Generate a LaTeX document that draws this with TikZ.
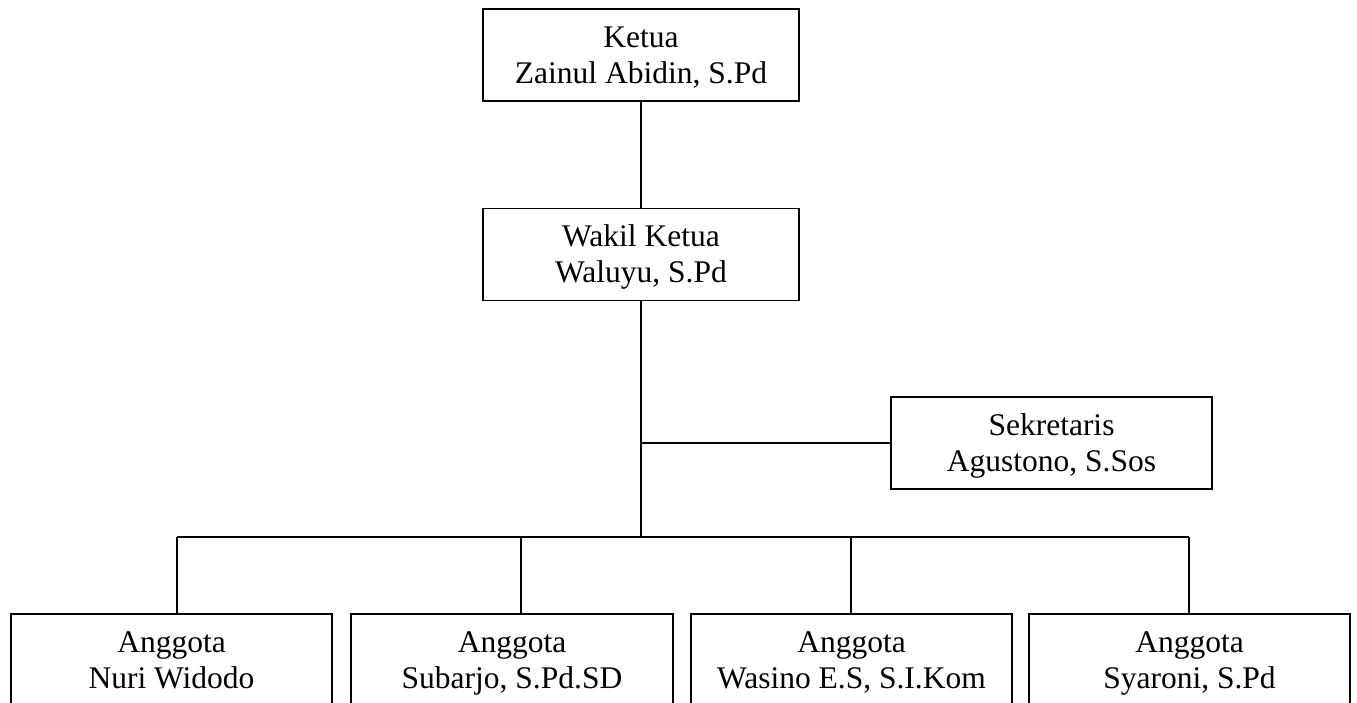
\documentclass[tikz,border=0pt]{standalone}
\usepackage{fontspec}
\setmainfont{Liberation Serif}
\begin{document}
\begin{tikzpicture}[x=1pt,y=-1pt,
  box/.style={draw, line width=1.4pt, minimum height=92pt, minimum width=#1, inner sep=0pt, outer sep=0pt},
  txt/.style={anchor=base, font=\fontsize{31.5}{36}\selectfont, inner sep=0pt},
  link/.style={line width=1.4pt}]
\clip (0,0) rectangle (1357,703);
\fill[white] (0,0) rectangle (1357,703);
% boxes
\node[box=316pt] (ketua) at (641,55) {};
\node[box=316pt] (wakil) at (641,254.5) {};
\node[box=321pt] (sek) at (1051.5,443) {};
\node[box=321pt] (a1) at (171.5,660) {};
\node[box=322pt] (a2) at (512,660) {};
\node[box=321pt] (a3) at (851.5,660) {};
\node[box=321pt] (a4) at (1189.5,660) {};
% texts
\node[txt] (ketuaA) at ([yshift=-38.5pt]ketua.north) {Ketua};
\node[txt] (ketuaB) at ([yshift=-74.5pt]ketua.north) {Zainul Abidin, S.Pd};
\node[txt] (wakilA) at ([yshift=-38.5pt]wakil.north) {Wakil Ketua};
\node[txt] (wakilB) at ([yshift=-74.5pt]wakil.north) {Waluyu, S.Pd};
\node[txt] (sekA) at ([yshift=-38.5pt]sek.north) {Sekretaris};
\node[txt] (sekB) at ([yshift=-74.5pt]sek.north) {Agustono, S.Sos};
\node[txt] (a1A) at ([yshift=-38.5pt]a1.north) {Anggota};
\node[txt] (a1B) at ([yshift=-74.5pt]a1.north) {Nuri Widodo};
\node[txt] (a2A) at ([yshift=-38.5pt]a2.north) {Anggota};
\node[txt] (a2B) at ([yshift=-74.5pt]a2.north) {Subarjo, S.Pd.SD};
\node[txt] (a3A) at ([yshift=-38.5pt]a3.north) {Anggota};
\node[txt] (a3B) at ([yshift=-74.5pt]a3.north) {Wasino E.S, S.I.Kom};
\node[txt] (a4A) at ([yshift=-38.5pt]a4.north) {Anggota};
\node[txt] (a4B) at ([yshift=-74.5pt]a4.north) {Syaroni, S.Pd};
% connectors
\coordinate (bar) at (641,537);
\coordinate (d1) at (177,537);
\coordinate (d2) at (521,537);
\coordinate (d3) at (851,537);
\coordinate (d4) at (1189,537);
\draw[link] (ketua.south) -- (wakil.north);
\draw[link] (wakil.south) -- (bar);
\draw[link] (sek.west) -- (sek.west -| wakil.south);
\draw[link] (d1) -- (d4);
\foreach \i in {1,2,3,4} {\draw[link] (d\i) -- (d\i |- a\i.north);}
\end{tikzpicture}
\end{document}
